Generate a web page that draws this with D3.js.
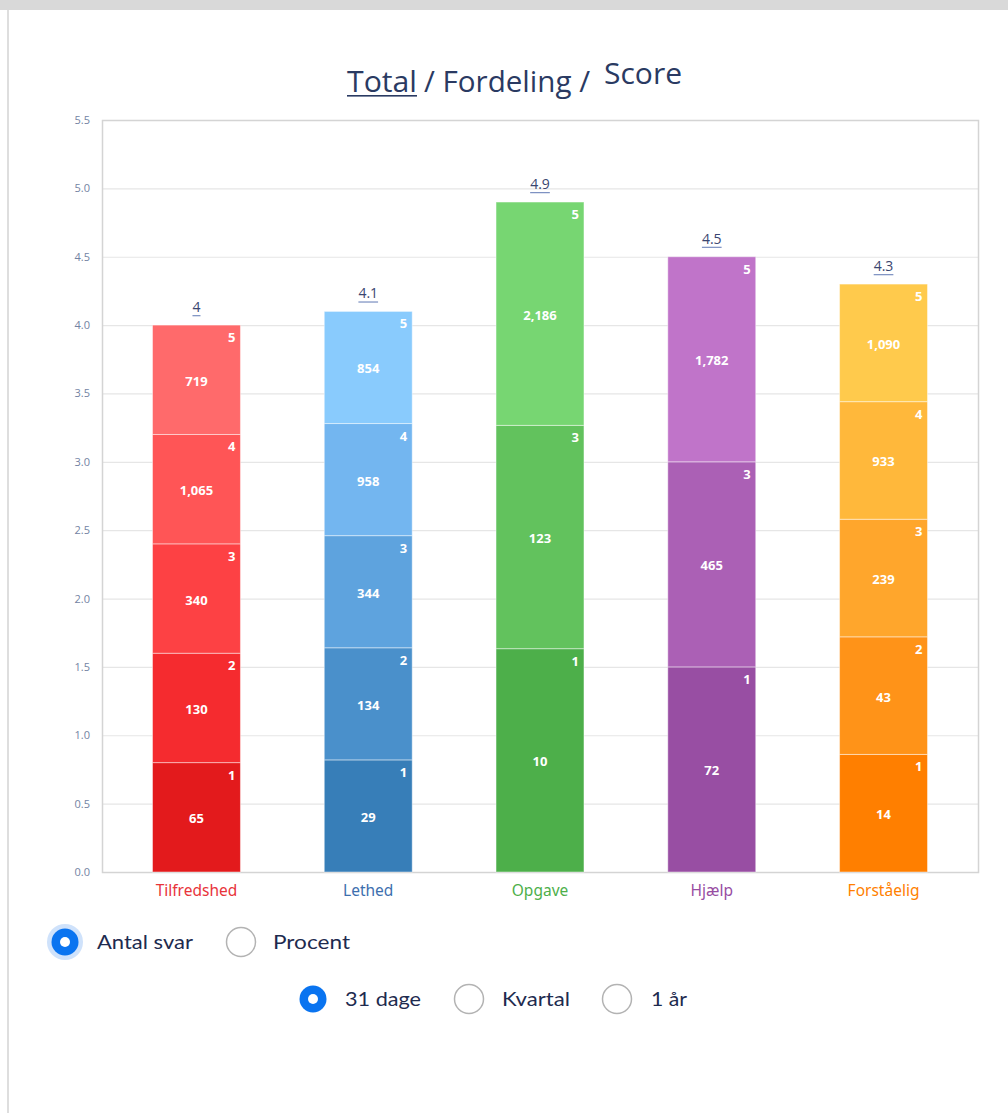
<!DOCTYPE html>
<html><head><meta charset="utf-8">
<script src="https://cdn.jsdelivr.net/npm/d3@7"></script>
<style>
html,body{margin:0;padding:0;background:#fff;}
svg{display:block;}
</style></head>
<body>
<script>
// ---- data ----
const categories = ["Tilfredshed", "Lethed", "Opgave", "Hjælp", "Forståelig"];
const scores = [4, 4.1, 4.9, 4.5, 4.3];
const levels = [1, 2, 3, 4, 5];
const counts1 = [65, 29, 10, 72, 14];
const counts2 = [130, 134, null, null, 43];
const counts3 = [340, 344, 123, 465, 239];
const counts4 = [1065, 958, null, null, 933];
const counts5 = [719, 854, 2186, 1782, 1090];
const yTicks = [0, 0.5, 1, 1.5, 2, 2.5, 3, 3.5, 4, 4.5, 5, 5.5];
const titleParts = ["Total", "/ Fordeling /", "Score"];
const radioRow1 = ["Antal svar", "Procent"];
const radioRow2 = ["31 dage", "Kvartal", "1 år"];

const paletteRed = ["#e31a1c", "#f52b2f", "#fd4144", "#ff5556", "#ff6a6b"];
const paletteBlue = ["#377eb8", "#4a90cb", "#5ea3de", "#73b6f0", "#89cbfd"];
const paletteGreen = ["#4daf4a", "#58b854", "#62c25d", "#6dcc68", "#77d672"];
const paletteViolet = ["#984ea3", "#a257ac", "#ab60b5", "#b66abf", "#c074c9"];
const paletteOrange = ["#ff7f00", "#ff9318", "#ffa62c", "#ffb83b", "#ffca4c"];
const labelColors = ["#e8343a", "#3d6fae", "#4daf4a", "#984ea3", "#ff7f00"];

const allCounts = [counts1, counts2, counts3, counts4, counts5];
const palettes = [paletteRed, paletteBlue, paletteGreen, paletteViolet, paletteOrange];

// ---- layout ----
const W = 1008, H = 1113;
const plot = {left: 102, right: 978, top: 120, bottom: 872};

const svg = d3.select("body").append("svg").attr("width", W).attr("height", H);
svg.append("rect").attr("x", 0).attr("y", 0).attr("width", W).attr("height", 10).attr("fill", "#d9d9d9");
svg.append("rect").attr("x", 7).attr("y", 10).attr("width", 2).attr("height", H - 10).attr("fill", "#dedede");

const y = d3.scaleLinear().domain([0, 5.5]).range([plot.bottom, plot.top]);
const x = d3.scaleBand().domain(categories).range([plot.left, plot.right]).paddingInner(0).paddingOuter(0.05);
const barW = x.bandwidth() * 0.512;

// title
const titleY = 92;
const title = svg.append("g").attr("fill", "#2a3a62").style("font-family", "'Open Sans', sans-serif").style("font-size", "29px").style("font-weight", "500");
title.append("text").attr("x", 347).attr("y", titleY).attr("textLength", 70).attr("lengthAdjust", "spacingAndGlyphs").text(titleParts[0]);
title.append("rect").attr("x", 347).attr("y", titleY + 3).attr("width", 70).attr("height", 1.6).attr("fill", "#2a3a62");
title.append("text").attr("x", 424).attr("y", titleY).attr("textLength", 166).attr("lengthAdjust", "spacingAndGlyphs").text(titleParts[1]);
title.append("text").attr("x", 604).attr("y", titleY - 8).attr("textLength", 78).attr("lengthAdjust", "spacingAndGlyphs").text(titleParts[2]);

// grid
const g = svg.append("g");
g.selectAll("line.grid").data(yTicks).join("line")
  .attr("x1", plot.left).attr("x2", plot.right)
  .attr("y1", d => y(d) + 0.5).attr("y2", d => y(d) + 0.5)
  .attr("stroke", "#e6e6e6").attr("stroke-width", 1.2);
g.append("rect").attr("x", plot.left + 0.5).attr("y", plot.top + 0.5)
  .attr("width", plot.right - plot.left).attr("height", plot.bottom - plot.top)
  .attr("fill", "none").attr("stroke", "#d4d4d4").attr("stroke-width", 1.5);

// y axis
const yAxis = d3.axisLeft(y).tickValues(yTicks).tickFormat(d3.format(".1f")).tickSize(0).tickPadding(12);
const ya = svg.append("g").attr("transform", `translate(${plot.left},0)`).call(yAxis);
ya.select(".domain").remove();
ya.selectAll("text").attr("fill", "#7383a3").style("font-family", "'Open Sans', sans-serif").style("font-size", "11px");

// bars
categories.forEach((cat, ci) => {
  const present = levels.map((lv, li) => ({lv, li, n: allCounts[li][ci]})).filter(d => d.n != null);
  const segH = scores[ci] / present.length;
  const cx = x(cat) + x.bandwidth() / 2;
  const bx = cx - barW / 2;
  const grp = svg.append("g");
  present.forEach((d, k) => {
    const y0 = segH * k, y1 = segH * (k + 1);
    grp.append("rect").attr("x", bx).attr("y", y(y1)).attr("width", barW).attr("height", y(y0) - y(y1))
      .attr("fill", palettes[ci][d.li]).attr("stroke", "rgba(255,255,255,0.45)").attr("stroke-width", 1);
    grp.append("text").attr("x", cx).attr("y", y((y0 + y1) / 2) + 6).attr("text-anchor", "middle")
      .attr("fill", "#fff").style("font-family", "'Open Sans', sans-serif").style("font-weight", "700").style("font-size", "13px")
      .text(d3.format(",")(d.n));
    grp.append("text").attr("x", bx + barW - 5).attr("y", y(y1) + 17).attr("text-anchor", "end")
      .attr("fill", "#fff").style("font-family", "'Open Sans', sans-serif").style("font-weight", "700").style("font-size", "13px")
      .text(d.lv);
  });
  // score label
  const sl = svg.append("text").attr("x", cx).attr("y", y(scores[ci]) - 13).attr("text-anchor", "middle")
    .attr("fill", "#3a4670").style("font-family", "'Open Sans', sans-serif").style("font-size", "14px")
    .text(scores[ci]);
  const bb = sl.node().getBBox();
  svg.append("rect").attr("x", bb.x).attr("y", y(scores[ci]) - 10).attr("width", bb.width).attr("height", 1.2).attr("fill", "#7a8fc0");
});

// x labels
const xAxis = d3.axisBottom(x).tickSize(0).tickPadding(13);
const xa = svg.append("g").attr("transform", `translate(0,${plot.bottom})`).call(xAxis);
xa.select(".domain").remove();
xa.selectAll("text").attr("fill", (d, i) => labelColors[i]).style("font-family", "'Noto Sans', sans-serif").style("font-size", "15.5px");

// radios
function radio(cx, cy, label, selected, halo, tx, tw) {
  if (halo) svg.append("circle").attr("cx", cx).attr("cy", cy).attr("r", 18).attr("fill", "#cfe2fb");
  if (selected) {
    svg.append("circle").attr("cx", cx).attr("cy", cy).attr("r", 13.5).attr("fill", "#0a74f0");
    svg.append("circle").attr("cx", cx).attr("cy", cy).attr("r", 5).attr("fill", "#fff");
  } else {
    svg.append("circle").attr("cx", cx).attr("cy", cy).attr("r", 14.5).attr("fill", "#fff").attr("stroke", "#b3b3b3").attr("stroke-width", 1.5);
  }
  svg.append("text").attr("x", tx).attr("y", cy + 7).attr("fill", "#1e2b4f")
    .attr("textLength", tw).attr("lengthAdjust", "spacingAndGlyphs")
    .style("font-family", "Lato, sans-serif").style("font-size", "20px").text(label);
}
radio(65, 942, radioRow1[0], true, true, 97, 96);
radio(241, 942, radioRow1[1], false, false, 273, 77);
radio(313, 999, radioRow2[0], true, false, 345, 76);
radio(469, 999, radioRow2[1], false, false, 502, 68);
radio(617, 999, radioRow2[2], false, false, 651, 36);
</script>
</body></html>
